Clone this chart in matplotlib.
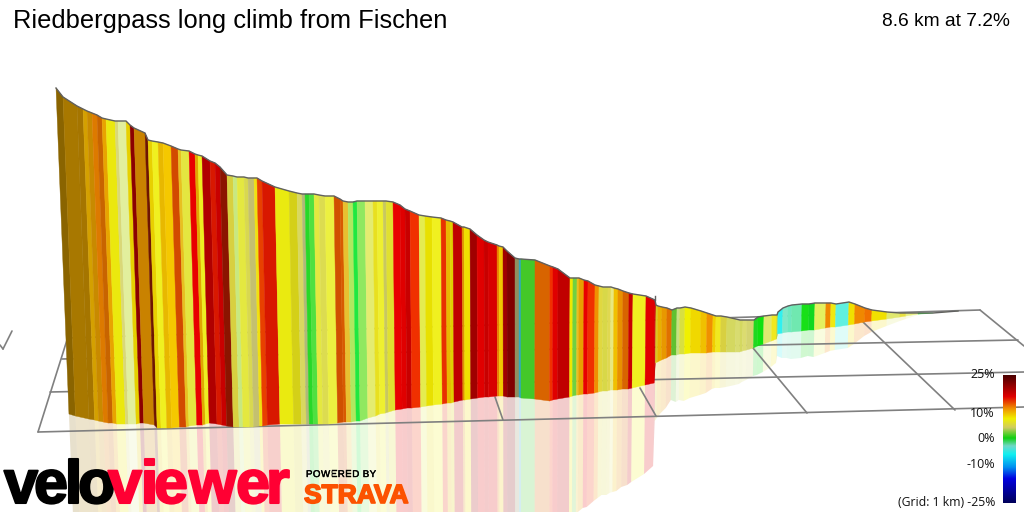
import numpy as np
import matplotlib
matplotlib.use('Agg')
import matplotlib.pyplot as plt
import matplotlib.patheffects as pe
from matplotlib.collections import PolyCollection
from matplotlib.colors import LinearSegmentedColormap

# climb wall: stripe edges along the ridge, ridge and foot height
edge_x = [56, 63, 77, 83, 87, 92, 97, 102, 106, 115, 118, 126, 130, 134, 145, 148, 152, 158, 163, 171, 178, 181, 189, 195,
          198, 202, 210, 215, 220, 227, 233, 237, 244, 248, 254, 257, 262, 275, 289, 297, 302, 305, 309, 314, 319, 325, 334, 340,
          343, 348, 353, 357, 365, 373, 377, 383, 386, 393, 400, 405, 410, 419, 425, 432, 441, 446, 450, 453, 462, 464, 470, 477,
          484, 488, 497, 499, 503, 507, 515, 519, 521, 535, 550, 553, 558, 570, 573, 577, 579, 584, 588, 595, 599, 603, 608, 611,
          614, 618, 623, 629, 633, 646, 655,
          656, 658, 662, 667, 672, 677, 680, 685, 691, 701, 707, 713, 716, 721, 727, 736, 740, 743, 747, 754, 758, 764, 772, 777,
          778, 783, 788, 792, 802, 809, 815, 826, 831, 836, 849, 855, 865, 872, 887, 900, 906, 918, 933, 958]
ridge_y = [88, 97, 106, 109, 111, 113, 115, 118, 119, 121, 121, 121, 125, 128, 133, 140, 141, 142, 143, 146, 149, 150, 151, 154,
           155, 156, 161, 163, 167, 175, 176, 177, 177, 178, 178, 178, 181, 187, 191, 193, 194, 194, 194, 194, 195, 196, 196, 199,
           201, 202, 202, 201, 201, 201, 201, 201, 201, 202, 205, 209, 211, 215, 216, 217, 218, 220, 221, 222, 227, 227, 229, 235,
           240, 242, 245, 246, 247, 251, 258, 259, 259, 260, 266, 267, 269, 278, 278, 278, 278, 280, 281, 285, 286, 287, 287, 287,
           288, 289, 291, 293, 294, 296, 300,
           305, 306, 307, 308, 310, 308, 308, 307, 308, 311, 313, 315, 316, 316, 317, 319, 320, 320, 320, 320, 317, 316, 315, 315,
           312, 308, 306, 305, 304, 304, 303, 303, 303, 304, 302, 304, 308, 310, 312, 313, 313, 313, 313, 311]
foot_y = [414, 416, 419, 420, 421, 422, 423, 423, 424, 424, 424, 424, 423, 423, 425, 428, 428, 428, 428, 427, 427, 426, 425, 425,
          424, 423, 424, 425, 426, 427, 427, 427, 427, 427, 426, 426, 425, 424, 424, 424, 424, 424, 424, 424, 424, 424, 423, 422,
          422, 422, 421, 421, 418, 416, 414, 413, 412, 410, 409, 408, 408, 407, 406, 405, 404, 403, 403, 402, 400, 400, 399, 398,
          397, 397, 396, 396, 396, 397, 397, 397, 398, 399, 401, 400, 399, 397, 396, 395, 395, 394, 394, 393, 392, 391, 391, 390,
          390, 390, 389, 389, 388, 385, 383,
          363, 362, 360, 358, 355, 355, 354, 354, 353, 353, 353, 352, 352, 352, 352, 352, 352, 351, 350, 348, 346, 344, 341, 339,
          334, 333, 332, 332, 331, 330, 330, 328, 327, 327, 325, 324, 322, 321, 319, 317, 316, 314, 313, 311]

stripe_colors = [
    '#8a6400', '#a87800', '#a57500', '#d4a000', '#c88a00', '#dd7a00', '#c86400', '#e8a400', '#ebe80e', '#d9d878',
    '#e2ef9d', '#e6d000', '#8b0000', '#c98200', '#6e1500', '#e8d000', '#f0f020', '#e8b800', '#f5c800', '#d24a00',
    '#e8c020', '#e4e640', '#e80000', '#e0a800', '#eeee20', '#b00000', '#d81800', '#c80000', '#8b1400', '#d8d040',
    '#c8e880', '#e4e840', '#d8d850', '#c4c070', '#f0e010', '#e84000', '#d81800', '#eaea10', '#d4d018', '#d8d860',
    '#b0b878', '#28d828', '#50e040', '#e4e840', '#dcdc50', '#ecf040', '#d05000', '#d85a00',
    '#e8c030', '#b0e860', '#20e840', '#90e860', '#e4ec70', '#e8e020', '#eef030', '#c8c860', '#e0e030', '#e80000',
    '#e00000', '#c80000', '#f03000', '#e4ec50', '#e8e000', '#f0f020', '#e83000', '#e8b800', '#e0d000', '#c00000',
    '#e09000', '#f0e000', '#a00000', '#e00000', '#c80000', '#d80000', '#e88000', '#f0c800', '#a00000', '#800000',
    '#909060', '#30a8c0', '#44c828', '#d86400', '#f03000', '#e00000', '#c00000', '#f0e800', '#70d040', '#e8c020',
    '#e8a000', '#e80000', '#f03000', '#f09000', '#e0d840', '#d8d848', '#e0d850', '#e8e880', '#f0c000', '#e89000',
    '#d86400', '#c80000', '#f0f020', '#e00000', '#c80000',
    '#d8c820', '#e8b000', '#e89800', '#e07000', '#60c030', '#c8e080', '#d8e040', '#f0f000', '#f0d800', '#f0c000',
    '#f09000', '#f0d000', '#f0e820', '#d8d040', '#d4d860', '#d8dc70', '#d4d860', '#dcdc70', '#d4d470', '#20d820',
    '#10e010', '#e0e870', '#f0e820', '#c0d030', '#30f0f0', '#80e8c8', '#70e8c0', '#70e8b0', '#18e018', '#10d820',
    '#e4f060', '#f08800', '#f0e810', '#60f0e0', '#f0e000', '#f08800', '#f07000', '#f0e000', '#e0e870', '#e8e040',
    '#e8f080', '#20e020', '#d8e890']
assert len(edge_x) == len(ridge_y) == len(foot_y) == len(stripe_colors) + 1

# floor grid, (x0, y0, x1, y1) in image pixels
grid_lines = [(38, 432, 1024, 407), (50, 392, 1024, 372), (62, 359, 1018, 340), (67, 338, 980, 310),
              (38, 432, 67, 340), (980, 310, 1024, 346), (863, 322, 955, 410), (753, 348, 807, 413),
              (640, 388, 656, 416), (495, 397, 503, 420), (0, 345, 3, 349), (3, 349, 12, 331)]

# colour scale of the legend
scale_grades = [-25, -15.5, -11, -6, -2.7, 0.4, 4.5, 8, 12, 16.6, 25]
scale_colors = ['#00005a', '#0000e0', '#0090f0', '#10f0f0', '#70d8c8', '#10d010', '#d0cc60', '#f0f000', '#f09000', '#e00000', '#4a0000']
scale_ticks = [25, 10, 0, -10]

# logo letters and where each one starts
logo_letters = list('veloviewer')
logo_starts = [4, 34, 65, 78, 108, 141, 154, 189, 236, 266]
logo_colors = ['black'] * 4 + ['#ff0033'] * 6

fig = plt.figure(figsize=(10.24, 5.12), dpi=100)
ax = fig.add_axes([0, 0, 1, 1])

x = np.array(edge_x, dtype=float)
top = np.array(ridge_y, dtype=float)
foot = np.array(foot_y, dtype=float)
height = foot - top

# stripes lean towards a vanishing point below the picture
foot_x = x + height * (520 - x) / 11670
mirror_x = x + 2 * height * (520 - x) / 11670
mirror_y = foot + height

walls = []
mirrors = []
for i in range(len(stripe_colors)):
    walls.append([(x[i], top[i]), (x[i + 1], top[i + 1]), (foot_x[i + 1], foot[i + 1]), (foot_x[i], foot[i])])
    mirrors.append([(foot_x[i], foot[i]), (foot_x[i + 1], foot[i + 1]), (mirror_x[i + 1], mirror_y[i + 1]), (mirror_x[i], mirror_y[i])])

ax.add_collection(PolyCollection(mirrors, facecolors=stripe_colors, edgecolors='none', alpha=0.2, zorder=1))
for x0, y0, x1, y1 in grid_lines:
    ax.plot([x0, x1], [y0, y1], color='#808080', lw=1.2, solid_capstyle='round', zorder=2)
ax.add_collection(PolyCollection(walls, facecolors=stripe_colors, edgecolors=stripe_colors, linewidths=0.3, zorder=3))
ax.plot(x, top, color='#606060', lw=1.0, zorder=4)
ax.plot([655, 655], [300, 296], color='#606060', lw=1.0, zorder=4)

# legend
gradient = LinearSegmentedColormap.from_list(
    'grade', [((g + 25) / 50, c) for g, c in zip(scale_grades, scale_colors)])
ax.imshow(np.linspace(1, 0, 256).reshape(-1, 1), cmap=gradient, extent=(1003, 1016, 503, 375), aspect='auto', zorder=5)
for g in scale_ticks:
    ax.text(995, 439 - g * 2.56, f'{g}%', ha='right', va='center', fontsize=9, family='Open Sans', color='#111111', zorder=6)
ax.text(995, 503, '(Grid: 1 km) -25%', ha='right', va='center', fontsize=8.8, family='Open Sans', color='#111111', zorder=6)

# headings
ax.text(13, 21, 'Riedbergpass long climb from Fischen', fontsize=18.4, family='Liberation Sans', va='center', color='black')
ax.text(1010, 21, '8.6 km at 7.2%', fontsize=13.8, family='Liberation Sans', va='center', ha='right', color='black')

# logos
for letter, start, colour in zip(logo_letters, logo_starts, logo_colors):
    ax.text(start, 503, letter, fontsize=44, family='Liberation Sans', weight='bold', color=colour, va='baseline', zorder=7,
            path_effects=[pe.withStroke(linewidth=1.5, foreground=colour)])
pos = 306
for letter in 'POWERED BY':
    t = ax.text(pos, 477, letter, fontsize=7, family='Liberation Sans', color='black', va='baseline', zorder=7,
                path_effects=[pe.withStroke(linewidth=0.3, foreground='black')])
    pos += 3 if letter == ' ' else t.get_window_extent(fig.canvas.get_renderer()).width + 0.5
ax.text(304, 503, 'STRAVA', fontsize=19, family='Liberation Sans', weight='bold', color='#fc5200', va='baseline', zorder=7,
        path_effects=[pe.withStroke(linewidth=1.2, foreground='#fc5200')])

ax.set_xlim(0, 1024)
ax.set_ylim(512, 0)
ax.axis('off')

plt.savefig('out.png', dpi=100)
